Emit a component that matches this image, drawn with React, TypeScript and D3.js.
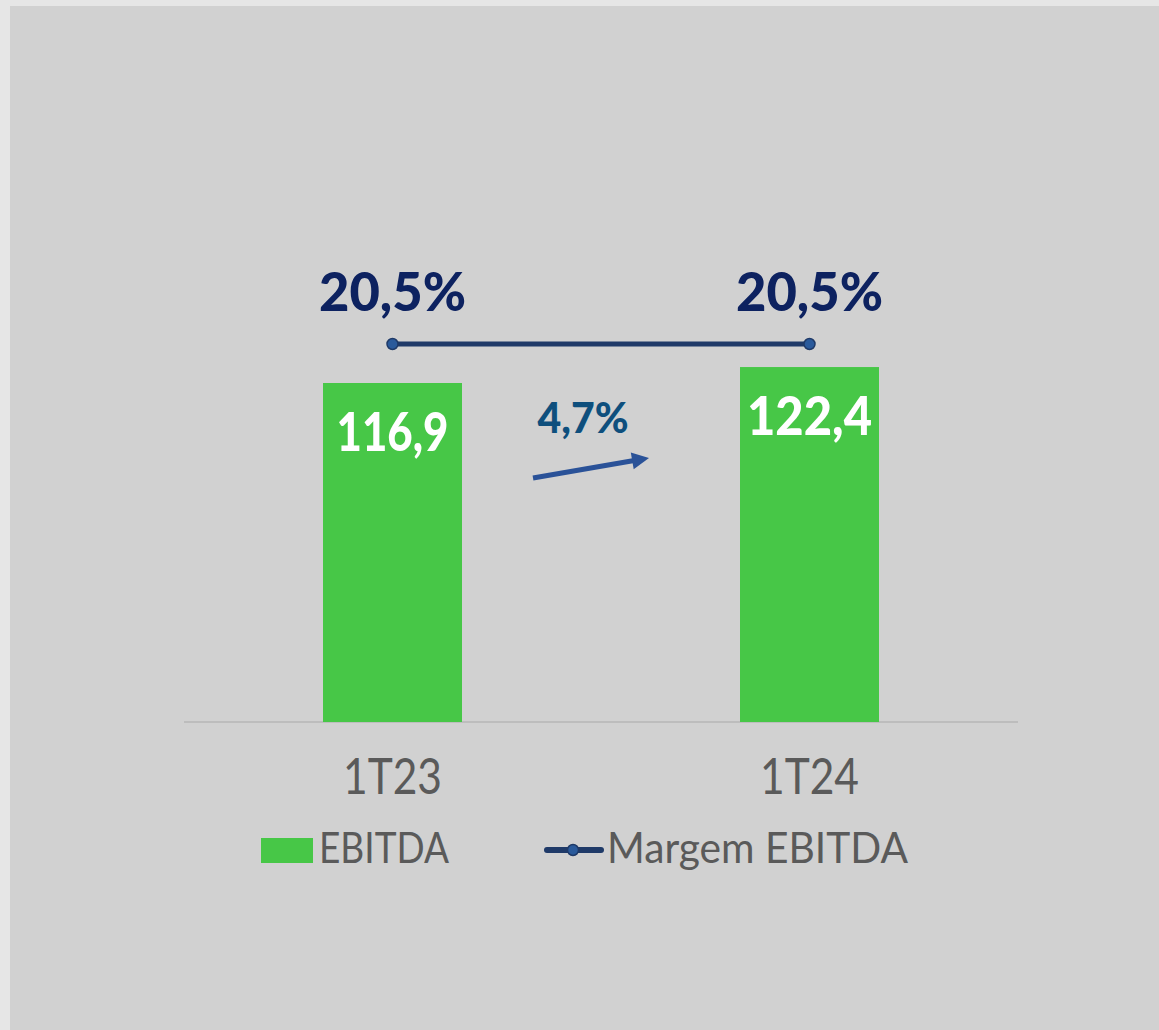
import React from "react";
import * as d3 from "d3";

const categories = ["1T23", "1T24"];
const ebitda = [116.9, 122.4];
const margem = [20.5, 20.5];
const ebitdaLabels = ["116,9", "122,4"];
const margemLabels = ["20,5%", "20,5%"];
const growthLabel = "4,7%";

const W = 1159;
const H = 1030;

export default function App() {
  const x = d3.scalePoint<string>().domain(categories).range([184, 1018]).padding(0.5);
  const y = d3.scaleLinear().domain([0, 116.9]).range([722, 383]);
  const yM = d3.scaleLinear().domain([0, 41]).range([688, 0]);
  const bw = 139;
  const cx = (c: string) => x(c) as number;
  const line = d3.line<number>().x((_, i) => cx(categories[i])).y((d) => yM(d));
  const font = "Lato, 'Open Sans', sans-serif";
  const x0 = cx(categories[0]), x1 = cx(categories[1]);
  const midX = (x0 + x1) / 2;
  // arrow geometry
  const ax0 = 533, ay0 = 478, ax1 = 649, ay1 = 458;
  const len = Math.hypot(ax1 - ax0, ay1 - ay0);
  const ux = (ax1 - ax0) / len, uy = (ay1 - ay0) / len;
  const headL = 17, headW = 17;
  const bx = ax1 - ux * headL, by = ay1 - uy * headL;
  const px = -uy, py = ux;
  const head = `M${ax1},${ay1} L${bx + px * headW / 2},${by + py * headW / 2} L${bx - px * headW / 2},${by - py * headW / 2} Z`;
  return (
    <svg width={W} height={H} style={{ position: "absolute", left: 0, top: 0 }}>
      <rect x={0} y={0} width={W} height={H} fill="#e6e6e6" />
      <rect x={10} y={6} width={W - 10} height={H - 6} fill="#d1d1d1" />
      <line x1={184} x2={1018} y1={722} y2={722} stroke="#bdbdbd" strokeWidth={2} />
      {categories.map((c, i) => (
        <g key={c}>
          <rect x={cx(c) - bw / 2} y={y(ebitda[i])} width={bw} height={722 - y(ebitda[i])} fill="#47c747" />
          <text x={cx(c)} y={y(ebitda[i]) + 68} textAnchor="middle" fill="#ffffff" fontFamily={font} fontWeight={900} fontSize={53} textLength={i === 0 ? 112 : 125} lengthAdjust="spacingAndGlyphs">
            {ebitdaLabels[i]}
          </text>
          <text x={cx(c)} y={311} textAnchor="middle" fill="#0d2260" fontFamily={font} fontWeight={900} fontSize={53} textLength={147} lengthAdjust="spacingAndGlyphs">
            {margemLabels[i]}
          </text>
          <text x={cx(c)} y={794} textAnchor="middle" fill="#5a5a5a" fontFamily={font} fontWeight={400} fontSize={50} textLength={99} lengthAdjust="spacingAndGlyphs">
            {c}
          </text>
        </g>
      ))}
      <path d={line(margem) as string} fill="none" stroke="#1f3a68" strokeWidth={5} />
      {margem.map((m, i) => (
        <circle key={i} cx={cx(categories[i])} cy={yM(m)} r={5.5} fill="#2a5a9b" stroke="#1f3a68" strokeWidth={1.5} />
      ))}
      <text x={midX - 18} y={433} textAnchor="middle" fill="#0e4f7d" fontFamily={font} fontWeight={900} fontSize={42} textLength={91} lengthAdjust="spacingAndGlyphs">
        {growthLabel}
      </text>
      <line x1={ax0} y1={ay0} x2={bx + ux * 2} y2={by + uy * 2} stroke="#2a5298" strokeWidth={5} />
      <path d={head} fill="#2a5298" />
      <rect x={261} y={838} width={52} height={25} fill="#47c747" />
      <text x={319} y={863} fill="#5a5a5a" fontFamily={font} fontSize={42} textLength={130} lengthAdjust="spacingAndGlyphs">EBITDA</text>
      <line x1={547} x2={601} y1={850} y2={850} stroke="#1f3a68" strokeWidth={6} strokeLinecap="round" />
      <circle cx={573} cy={850} r={5.5} fill="#2a5a9b" stroke="#1f3a68" strokeWidth={1.5} />
      <text x={607} y={863} fill="#5a5a5a" fontFamily={font} fontSize={42} textLength={301} lengthAdjust="spacingAndGlyphs">Margem EBITDA</text>
    </svg>
  );
}
